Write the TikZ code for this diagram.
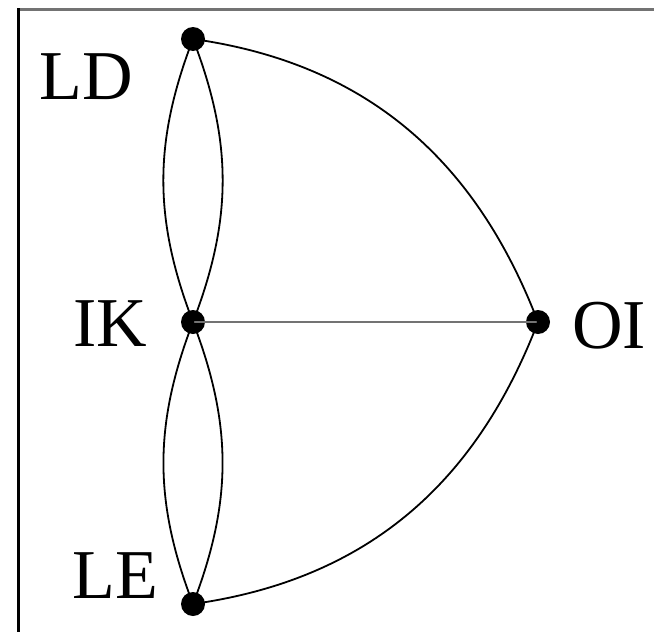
\documentclass[tikz,border=0pt]{standalone}
\usepackage{fontspec}
\setmainfont{Liberation Serif}
\begin{document}
\begin{tikzpicture}[x=1pt,y=-1pt,
  dot/.style={circle,fill=black,inner sep=0pt,minimum size=24pt},
  lbl/.style={font=\fontsize{70}{70}\selectfont,inner sep=0pt},
  edge/.style={line width=1.8pt,black},
  gedge/.style={line width=2pt,black!55}]
\useasboundingbox (0,0) rectangle (654,632);
\fill[white] (0,0) rectangle (654,632);
\draw[line width=2.7pt,black!55] (17,9.7) -- (654,9.7);
\draw[line width=3pt,black] (18.5,8.3) -- (18.5,632);
\node[dot] (LD) at (193,39) {};
\node[dot] (IK) at (193,322) {};
\node[dot] (OI) at (538,322) {};
\node[dot] (LE) at (193,604) {};
\node[lbl] (tLD) at (86,77) {LD};
\node[lbl] (tIK) at (110,324) {IK};
\node[lbl] (tOI) at (609,326) {OI};
\node[lbl] (tLE) at (115,576) {LE};
\draw[gedge] (IK.center) -- (OI.center);
\draw[edge] (LD.center) to[bend right=21] (IK.center);
\draw[edge] (LD.center) to[bend left=21] (IK.center);
\draw[edge] (IK.center) to[bend right=21] (LE.center);
\draw[edge] (IK.center) to[bend left=21] (LE.center);
\draw[edge] (LD.center) to[out=-8,in=111,looseness=1.0] (OI.center);
\draw[edge] (OI.center) to[out=-111,in=8,looseness=1.0] (LE.center);
\end{tikzpicture}
\end{document}
